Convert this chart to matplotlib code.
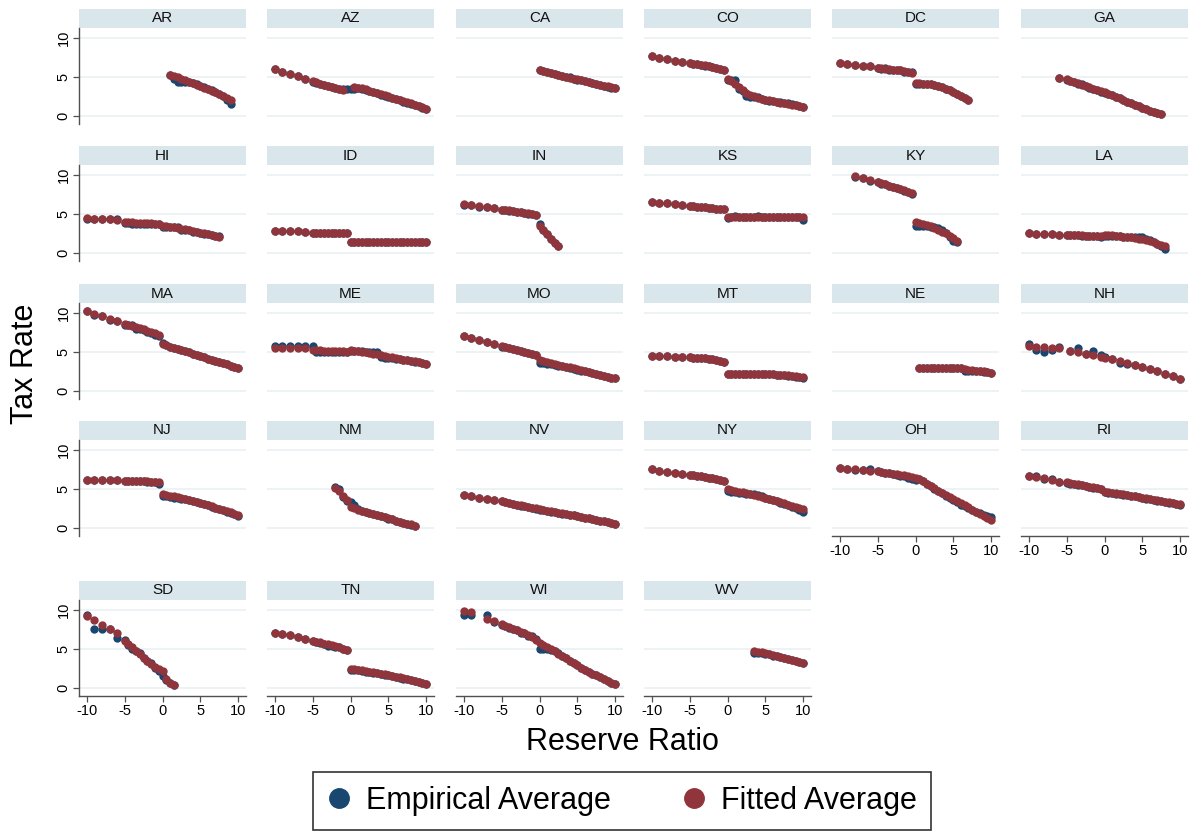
import matplotlib
matplotlib.use("Agg")
import matplotlib.pyplot as plt
from matplotlib.lines import Line2D
from matplotlib.patches import Rectangle
import numpy as np

plt.rcParams['font.family'] = ['Liberation Sans', 'DejaVu Sans']

n = None

# reserve ratio grid shared by every state
reserve_grid = [-10, -9, -8, -7, -6,
                -5, -4.5, -4, -3.5, -3, -2.5, -2, -1.5, -1, -0.5,
                0, 0.5, 1, 1.5, 2, 2.5, 3, 3.5, 4, 4.5, 5, 5.5, 6, 6.5, 7, 7.5, 8, 8.5, 9, 9.5, 10]

states = ["AR", "AZ", "CA", "CO", "DC", "GA",
          "HI", "ID", "IN", "KS", "KY", "LA",
          "MA", "ME", "MO", "MT", "NE", "NH",
          "NJ", "NM", "NV", "NY", "OH", "RI",
          "SD", "TN", "WI", "WV"]

# tax rates (empirical / fitted average)
emp_AR = [n]*5 + [n]*10 + [n, n, 5.2, 4.8, 4.4, 4.3, 4.3, 4.3, 4.2, 4.1, 3.9, 3.7, 3.5, 3.3, 3.1, 2.8, 2.5, 2.1, 1.5, n, n]
fit_AR = [n]*5 + [n]*10 + [n, n, 5.3, 5.15, 4.95, 4.75, 4.6, 4.4, 4.2, 4.0, 3.85, 3.65, 3.45, 3.25, 3.05, 2.85, 2.6, 2.35, 2.1, n, n]

emp_AZ = [6.0, 5.7, 5.4, 5.1, 4.8] + [4.4, 4.2, 4.05, 3.95, 3.8, 3.7, 3.6, 3.5, 3.45, 3.45] + [3.45, 3.5, 3.55, 3.5, 3.35, 3.2, 3.05, 2.9, 2.75, 2.6, 2.45, 2.3, 2.15, 2.0, 1.85, 1.7, 1.55, 1.4, 1.25, 1.05, 0.9]
fit_AZ = [6.0, 5.7, 5.4, 5.1, 4.8] + [4.45, 4.3, 4.15, 4.0, 3.9, 3.75, 3.6, 3.45, 3.35, n] + [n, 3.75, 3.65, 3.55, 3.4, 3.25, 3.1, 2.95, 2.8, 2.65, 2.5, 2.35, 2.2, 2.05, 1.9, 1.75, 1.6, 1.45, 1.3, 1.1, 0.95]

emp_CA = [n]*5 + [n]*10 + [5.95, 5.75, 5.6, 5.5, 5.4, 5.3, 5.15, 5.05, 4.95, 4.8, 4.65, 4.55, 4.45, 4.35, 4.2, 4.1, 4.0, 3.85, 3.75, 3.65, 3.55]
fit_CA = [n]*5 + [n]*10 + [5.85, 5.72, 5.6, 5.5, 5.38, 5.27, 5.15, 5.04, 4.92, 4.8, 4.7, 4.58, 4.47, 4.35, 4.24, 4.12, 4.0, 3.9, 3.78, 3.67, 3.55]

emp_CO = [7.7, 7.45, 7.3, 7.1, 6.9] + [6.75, 6.65, 6.7, 6.5, 6.4, 6.45, 6.3, 6.1, 6.05, 5.85] + [4.6, 4.6, 4.6, 3.5, 3.2, 2.6, 2.4, 2.4, 2.4, 2.15, 2.1, 1.9, 1.9, 1.8, 1.75, 1.6, 1.6, 1.5, 1.35, 1.3, 1.2]
fit_CO = [7.7, 7.45, 7.3, 7.1, 6.9] + [6.75, 6.7, 6.6, 6.55, 6.5, 6.4, 6.3, 6.2, 6.05, 5.9] + [4.7, 4.45, 4.1, 3.7, 3.35, 3.0, 2.7, 2.5, 2.35, 2.2, 2.1, 2.0, 1.9, 1.8, 1.7, 1.6, 1.5, 1.45, 1.35, 1.3, 1.2]

emp_DC = [6.75, 6.65, 6.55, 6.45, 6.35] + [6.1, 6.05, 6.1, 5.95, 5.9, 5.85, 5.9, 5.7, 5.7, 5.6] + [4.15, 4.15, 4.1, 4.1, 4.05, 3.95, 3.85, 3.7, 3.5, 3.3, 3.1, 2.85, 2.6, 2.35, 2.1, n, n, n, n, n, n]
fit_DC = [6.75, 6.65, 6.55, 6.45, 6.35] + [6.15, 6.1, 6.05, 6.0, 5.95, 5.9, 5.85, 5.75, 5.65, 5.45] + [4.2, 4.2, 4.15, 4.1, 4.05, 3.95, 3.85, 3.7, 3.5, 3.3, 3.1, 2.85, 2.6, 2.35, 2.1, n, n, n, n, n, n]

emp_GA = [n, n, n, n, 4.9] + [4.65, 4.5, 4.35, 4.15, 4.05, 3.8, 3.65, 3.5, 3.3, 3.05] + [3.0, 2.85, 2.65, 2.45, 2.25, 2.05, 1.85, 1.65, 1.45, 1.25, 1.05, 0.9, 0.7, 0.55, 0.4, 0.3, n, n, n, n, n]
fit_GA = [n, n, n, n, 4.9] + [4.7, 4.5, 4.35, 4.2, 4.0, 3.85, 3.7, 3.5, 3.35, 3.2] + [3.05, 2.85, 2.65, 2.45, 2.25, 2.05, 1.85, 1.65, 1.45, 1.25, 1.05, 0.9, 0.7, 0.55, 0.4, 0.3, n, n, n, n, n]

emp_HI = [4.4, 4.4, 4.3, 4.35, 4.4] + [3.8, 3.8, 3.75, 3.75, 3.75, 3.75, 3.75, 3.75, 3.7, 3.7] + [3.3, 3.3, 3.3, 3.3, 3.3, 3.0, 3.0, 3.0, 2.75, 2.7, 2.55, 2.45, 2.4, 2.3, 2.2, 2.2, n, n, n, n, n]
fit_HI = [4.45, 4.4, 4.35, 4.3, 4.2] + [4.0, 3.98, 3.95, 3.9, 3.88, 3.85, 3.82, 3.78, 3.72, 3.68] + [3.5, 3.45, 3.38, 3.3, 3.22, 3.12, 3.02, 2.9, 2.8, 2.7, 2.6, 2.5, 2.4, 2.3, 2.2, 2.1, n, n, n, n, n]

emp_ID = [2.85, 2.85, 2.8, 2.8, 2.65] + [2.6]*10 + [1.45, 1.45, 1.45, 1.45, 1.44, 1.44, 1.43, 1.43, 1.42, 1.42, 1.41, 1.41, 1.4, 1.4, 1.39, 1.39, 1.38, 1.38, 1.37, 1.36, 1.35]
fit_ID = [2.85, 2.82, 2.8, 2.78, 2.7] + [2.6]*10 + [1.45, 1.45, 1.45, 1.45, 1.44, 1.44, 1.43, 1.43, 1.42, 1.42, 1.41, 1.41, 1.4, 1.4, 1.39, 1.39, 1.38, 1.38, 1.37, 1.36, 1.35]

emp_IN = [6.15, 6.15, 5.95, 5.9, 5.75] + [5.5, 5.45, 5.4, 5.35, 5.3, 5.2, 5.15, 5.05, 4.95, 4.9] + [3.7, 2.95, 2.45, 1.85, 1.3, 0.9] + [n]*15
fit_IN = [6.3, 6.15, 6.0, 5.9, 5.75] + [5.55, 5.5, 5.45, 5.38, 5.3, 5.22, 5.15, 5.08, 5.0, 4.9] + [3.5, 2.95, 2.4, 1.85, 1.3, 0.9] + [n]*15

emp_KS = [6.5, 6.45, 6.35, 6.25, 6.15] + [6.05, 6.0, 5.95, 5.9, 5.85, 5.8, 5.75, 5.7, 5.65, 5.6] + [4.45, 4.55, 4.75, 4.6, 4.6, 4.6, 4.6, 4.55, 4.7, 4.6, 4.6, 4.6, 4.55, 4.55, 4.6, 4.55, 4.6, 4.6, 4.6, 4.55, 4.2]
fit_KS = [6.5, 6.45, 6.35, 6.25, 6.15] + [6.05, 6.0, 5.95, 5.9, 5.85, 5.8, 5.75, 5.7, 5.65, 5.6] + [4.6, 4.6, 4.6, 4.6, 4.6, 4.6, 4.6, 4.6, 4.6, 4.6, 4.6, 4.6, 4.6, 4.58, 4.58, 4.57, 4.57, 4.56, 4.56, 4.55, 4.55]

emp_KY = [n, n, 9.8, 9.55, 9.25] + [9.1, 8.9, 8.8, 8.65, 8.5, 8.35, 8.2, 8.0, 7.8, 7.5] + [3.5, 3.45, 3.45, 3.4, 3.35, 3.3, 3.2, 2.9, 2.5, 2.1, 1.5, 1.4] + [n]*9
fit_KY = [n, n, 9.9, 9.55, 9.3] + [9.1, 8.95, 8.8, 8.65, 8.5, 8.35, 8.2, 8.05, 7.85, 7.65] + [3.95, 3.85, 3.7, 3.55, 3.4, 3.2, 3.0, 2.75, 2.5, 2.2, 1.9, 1.55] + [n]*9

emp_LA = [2.5, 2.45, 2.42, 2.4, 2.35] + [2.3, 2.25, 2.25, 2.25, 2.2, 2.2, 2.2, 2.2, 2.15, 2.1] + [2.2, 2.2, 2.2, 2.15, 2.15, 2.1, 2.05, 2.05, 2.05, 2.0, 2.0, 1.8, 1.6, 1.4, 1.2, 0.9, 0.55, n, n, n, n]
fit_LA = [2.5, 2.45, 2.42, 2.4, 2.35] + [2.3, 2.28, 2.26, 2.25, 2.24, 2.22, 2.2, 2.2, 2.18, 2.15] + [2.35, 2.3, 2.25, 2.2, 2.15, 2.1, 2.05, 2.0, 1.95, 1.85, 1.75, 1.65, 1.5, 1.35, 1.2, 1.05, 0.95, n, n, n, n]

emp_MA = [10.3, 9.8, 9.65, 9.15, 8.95] + [8.5, 8.5, 8.5, 8.0, 7.9, 7.85, 7.6, 7.4, 7.2, 7.0] + [6.1, 5.85, 5.7, 5.55, 5.4, 5.25, 5.1, 4.95, 4.8, 4.6, 4.45, 4.3, 4.15, 4.0, 3.85, 3.7, 3.55, 3.4, 3.25, 3.1, 2.95]
fit_MA = [10.25, 9.85, 9.65, 9.2, 9.0] + [8.65, 8.5, 8.35, 8.2, 8.05, 7.9, 7.75, 7.55, 7.4, 7.2] + [6.0, 5.85, 5.7, 5.55, 5.4, 5.25, 5.1, 4.95, 4.8, 4.6, 4.45, 4.3, 4.15, 4.0, 3.85, 3.7, 3.55, 3.4, 3.25, 3.1, 2.95]

emp_ME = [5.75, 5.75, 5.75, 5.75, 5.75] + [5.75, 5.0, 5.0, 5.0, 5.0, 5.0, 5.0, 5.0, 5.0, 5.0] + [5.1, 5.1, 5.1, 5.1, 5.05, 5.05, 5.05, 5.0, 4.4, 4.2, 4.2, 4.2, 4.15, 4.1, 4.0, 3.95, 3.85, 3.75, 3.7, 3.6, 3.5]
fit_ME = [5.55, 5.55, 5.55, 5.5, 5.5] + [5.25, 5.2, 5.2, 5.15, 5.15, 5.12, 5.1, 5.1, 5.08, 5.05] + [5.2, 5.15, 5.1, 5.0, 4.95, 4.85, 4.8, 4.7, 4.6, 4.5, 4.4, 4.3, 4.2, 4.1, 4.0, 3.95, 3.85, 3.8, 3.7, 3.6, 3.5]

emp_MO = [7.05, 6.75, 6.5, 6.3, 6.05] + [5.7, 5.6, 5.5, 5.4, 5.25, 5.15, 5.0, 4.85, 4.75, 4.6] + [3.55, 3.55, 3.5, 3.45, 3.35, 3.25, 3.15, 3.05, 2.95, 2.85, 2.75, 2.62, 2.5, 2.4, 2.28, 2.16, 2.04, 1.92, 1.8, 1.7, 1.6]
fit_MO = [7.05, 6.75, 6.5, 6.3, 6.05] + [5.75, 5.65, 5.55, 5.42, 5.3, 5.18, 5.05, 4.9, 4.78, 4.65] + [3.95, 3.83, 3.72, 3.6, 3.48, 3.36, 3.25, 3.13, 3.01, 2.89, 2.78, 2.66, 2.54, 2.42, 2.31, 2.19, 2.07, 1.95, 1.83, 1.72, 1.6]

emp_MT = [4.5, 4.5, 4.45, 4.4, 4.35] + [4.3, 4.2, 4.2, 4.25, 4.2, 4.15, 4.05, 3.95, 3.85, 3.7] + [2.2, 2.2, 2.2, 2.2, 2.2, 2.2, 2.2, 2.2, 2.2, 2.2, 2.2, 2.2, 2.15, 2.0, 2.0, 2.0, 1.95, 1.9, 1.85, 1.8, 1.7]
fit_MT = [4.5, 4.5, 4.45, 4.4, 4.35] + [4.3, 4.28, 4.25, 4.22, 4.18, 4.12, 4.05, 3.95, 3.85, 3.7] + [2.2, 2.2, 2.2, 2.2, 2.2, 2.2, 2.2, 2.18, 2.18, 2.16, 2.15, 2.14, 2.12, 2.1, 2.08, 2.05, 2.0, 1.95, 1.9, 1.82, 1.75]

emp_NE = [n]*5 + [n]*10 + [n, 2.95, 2.95, 2.95, 2.95, 2.95, 2.95, 2.95, 2.95, 2.95, 2.95, 2.95, 2.95, 2.6, 2.55, 2.55, 2.5, 2.5, 2.45, 2.4, 2.3]
fit_NE = [n]*5 + [n]*10 + [n, 2.95, 2.95, 2.95, 2.95, 2.95, 2.95, 2.94, 2.93, 2.92, 2.91, 2.9, 2.9, 2.8, 2.7, 2.65, 2.6, 2.55, 2.5, 2.4, 2.3]

emp_NH = [6.0, 5.3, 5.0, 5.3, 5.6] + [n, 5.1, n, 5.5, n, 4.8, n, 5.1, n, 4.6] + [4.3, n, 4.1, n, 3.6, n, 3.4, n, 3.3, n, 3.1, n, 2.8, n, 2.5, n, 2.2, n, 1.9, n, 1.5]
fit_NH = [5.8, 5.7, 5.6, 5.5, 5.45] + [n, 5.1, n, 5.0, n, 4.8, n, 4.6, n, 4.4] + [4.2, n, 4.1, n, 3.8, n, 3.6, n, 3.3, n, 3.1, n, 2.8, n, 2.5, n, 2.2, n, 1.9, n, 1.5]

emp_NJ = [6.2, 6.2, 6.18, 6.15, 6.1] + [6.05, 6.05, 6.05, 6.0, 6.0, 6.0, 5.95, 5.9, 5.9, 5.7] + [4.15, 4.05, 3.95, 3.9, 3.85, 3.75, 3.7, 3.6, 3.5, 3.35, 3.2, 3.05, 2.9, 2.75, 2.55, 2.4, 2.25, 2.05, 1.9, 1.75, 1.5]
fit_NJ = [6.2, 6.2, 6.18, 6.15, 6.1] + [6.05, 6.05, 6.05, 6.02, 6.0, 6.0, 5.98, 5.95, 5.92, 5.85] + [4.35, 4.25, 4.15, 4.05, 3.95, 3.8, 3.7, 3.55, 3.45, 3.35, 3.2, 3.05, 2.9, 2.8, 2.6, 2.45, 2.3, 2.15, 2.0, 1.85, 1.65]

emp_NM = [n]*5 + [n, n, n, n, n, n, 5.2, 5.0, 4.0, 3.4] + [3.3, 3.0, 2.4, 2.2, 2.05, 1.9, 1.75, 1.6, 1.5, 1.35, 1.2, 1.1, 0.95, 0.8, 0.65, 0.55, 0.4, 0.3, n, n, n]
fit_NM = [n]*5 + [n, n, n, n, n, n, 5.15, 4.7, 4.1, 3.6] + [2.65, 2.5, 2.35, 2.2, 2.05, 1.9, 1.8, 1.65, 1.5, 1.35, 1.25, 1.1, 0.95, 0.8, 0.7, 0.55, 0.45, 0.3, n, n, n]

emp_NV = [4.2, 4.05, 3.9, 3.75, 3.6] + [3.4, 3.3, 3.15, 3.1, 2.95, 2.85, 2.8, 2.65, 2.55, 2.4] + [2.35, 2.3, 2.2, 2.1, 2.05, 1.95, 1.85, 1.75, 1.7, 1.6, 1.5, 1.4, 1.3, 1.25, 1.1, 1.0, 0.95, 0.85, 0.75, 0.6, 0.5]
fit_NV = [4.2, 4.05, 3.9, 3.75, 3.6] + [3.4, 3.3, 3.2, 3.1, 3.0, 2.9, 2.8, 2.7, 2.6, 2.5] + [2.4, 2.3, 2.2, 2.12, 2.05, 1.95, 1.87, 1.78, 1.7, 1.6, 1.5, 1.42, 1.33, 1.25, 1.15, 1.05, 0.95, 0.85, 0.75, 0.65, 0.55]

emp_NY = [7.5, 7.35, 7.2, 7.05, 6.95] + [6.85, 6.8, 6.7, 6.6, 6.55, 6.45, 6.4, 6.3, 6.2, 6.05] + [4.7, 4.65, 4.6, 4.5, 4.45, 4.4, 4.4, 4.35, 4.2, 4.05, 3.9, 3.75, 3.55, 3.4, 3.25, 3.05, 2.9, 2.75, 2.55, 2.35, 2.1]
fit_NY = [7.5, 7.35, 7.2, 7.05, 6.95] + [6.85, 6.75, 6.7, 6.6, 6.5, 6.45, 6.35, 6.3, 6.2, 6.05] + [4.95, 4.85, 4.75, 4.65, 4.55, 4.45, 4.35, 4.25, 4.15, 4.0, 3.9, 3.75, 3.6, 3.45, 3.3, 3.15, 3.0, 2.85, 2.7, 2.55, 2.4]

emp_OH = [7.7, 7.5, 7.45, 7.4, 7.5] + [7.3, 7.2, 7.1, 7.0, 6.9, 6.8, 6.7, 6.6, 6.4, 6.3] + [6.2, 6.25, 6.0, 5.65, 5.35, 5.05, 4.75, 4.45, 4.15, 3.9, 3.6, 3.3, 3.0, 2.8, 2.5, 2.3, 2.1, 1.9, 1.7, 1.55, 1.4]
fit_OH = [7.7, 7.55, 7.5, 7.4, 7.35] + [7.25, 7.2, 7.1, 7.05, 6.95, 6.9, 6.8, 6.75, 6.65, 6.55] + [6.45, 6.3, 6.0, 5.7, 5.4, 5.1, 4.8, 4.5, 4.25, 4.0, 3.75, 3.45, 3.2, 2.9, 2.65, 2.35, 2.1, 1.85, 1.55, 1.3, 1.0]

emp_RI = [6.6, 6.6, 6.3, 6.25, 5.9] + [5.8, 5.7, 5.6, 5.55, 5.45, 5.35, 5.3, 5.15, 5.1, 5.0] + [4.55, 4.5, 4.45, 4.4, 4.35, 4.25, 4.2, 4.1, 4.05, 3.95, 3.85, 3.75, 3.7, 3.6, 3.5, 3.45, 3.35, 3.25, 3.2, 3.1, 3.0]
fit_RI = [6.7, 6.55, 6.35, 6.2, 5.95] + [5.85, 5.75, 5.65, 5.6, 5.5, 5.4, 5.3, 5.2, 5.1, 5.0] + [4.6, 4.55, 4.5, 4.45, 4.35, 4.3, 4.2, 4.15, 4.05, 4.0, 3.9, 3.8, 3.7, 3.6, 3.55, 3.45, 3.35, 3.3, 3.2, 3.1, 3.05]

emp_SD = [9.3, 7.6, 7.5, 7.6, 6.4] + [6.2, 5.5, 5.0, 4.7, 4.5, 3.8, 3.5, 3.2, 2.5, 2.2] + [1.5, 1.0, 0.6, 0.4] + [n]*17
fit_SD = [9.2, 8.7, 8.1, 7.6, 7.0] + [6.0, 5.6, 5.2, 4.75, 4.35, 3.9, 3.5, 3.1, 2.7, 2.4] + [2.2, 1.2, 0.7, 0.4] + [n]*17

emp_TN = [7.1, 6.95, 6.75, 6.5, 6.3] + [6.0, 5.95, 5.8, 5.7, 5.4, 5.4, 5.3, 5.2, 5.0, 4.85] + [2.3, 2.35, 2.3, 2.2, 2.1, 2.0, 1.9, 1.9, 1.8, 1.7, 1.6, 1.5, 1.4, 1.3, 1.2, 1.1, 1.0, 0.85, 0.75, 0.6, 0.5]
fit_TN = [7.1, 6.95, 6.75, 6.5, 6.3] + [6.05, 5.95, 5.85, 5.7, 5.6, 5.45, 5.35, 5.2, 5.05, 4.9] + [2.45, 2.4, 2.35, 2.3, 2.2, 2.1, 2.0, 1.95, 1.85, 1.75, 1.65, 1.55, 1.45, 1.35, 1.25, 1.1, 1.0, 0.9, 0.75, 0.65, 0.5]

emp_WI = [9.4, 9.35, n, 9.3, 8.5] + [8.1, 8.0, 7.7, 7.5, 7.4, 7.1, 7.0, 6.7, 6.6, 6.3] + [5.0, 5.0, 5.0, 4.9, 4.8, 4.5, 4.1, 3.8, 3.5, 3.2, 2.9, 2.6, 2.35, 2.1, 1.85, 1.6, 1.35, 1.1, 0.9, 0.7, 0.55]
fit_WI = [9.9, 9.7, n, 8.85, 8.55] + [8.2, 8.0, 7.8, 7.6, 7.4, 7.2, 7.0, 6.75, 6.5, 6.2] + [5.8, 5.55, 5.3, 5.0, 4.7, 4.4, 4.1, 3.8, 3.5, 3.2, 2.9, 2.6, 2.35, 2.1, 1.85, 1.6, 1.35, 1.1, 0.9, 0.7, 0.55]

emp_WV = [n]*5 + [n]*10 + [n]*7 + [4.5, 4.5, 4.5, 4.3, 4.3, 4.15, 4.05, 3.95, 3.85, 3.7, 3.6, 3.45, 3.3, 3.15]
fit_WV = [n]*5 + [n]*10 + [n]*7 + [4.75, 4.65, 4.55, 4.45, 4.35, 4.2, 4.1, 4.0, 3.85, 3.75, 3.6, 3.5, 3.35, 3.2]

empirical = {s: globals()["emp_" + s] for s in states}
fitted = {s: globals()["fit_" + s] for s in states}

navy = '#1a476f'
maroon = '#90353b'
strip = '#d9e6eb'
gridc = '#eaf1f3'
axc = '#505050'

W, H = 1192, 833
fig = plt.figure(figsize=(W / 100, H / 100), dpi=100)

col_left = [79, 267, 456, 644, 832, 1021]
row_top = [28, 165, 303, 440, 600]
pw, ph = 167, 96

x = np.array(reserve_grid, dtype=float)

for i, s in enumerate(states):
    r, c = divmod(i, 6)
    ax = fig.add_axes([col_left[c] / W, 1 - (row_top[r] + ph) / H, pw / W, ph / H])
    ax.set_xlim(-11.05, 11.05)
    ax.set_ylim(-1.03, 11.28)

    for g in (0, 5, 10):
        ax.axhline(g, color=gridc, lw=1.2, zorder=0)

    e = np.array([np.nan if v is None else v for v in empirical[s]], dtype=float)
    f = np.array([np.nan if v is None else v for v in fitted[s]], dtype=float)
    ax.scatter(x, e, s=36, color=navy, linewidths=0, zorder=2)
    ax.scatter(x, f, s=36, color=maroon, linewidths=0, zorder=3)

    # header strip
    ax.add_patch(Rectangle((0, 1), 1, 19 / ph, transform=ax.transAxes,
                           facecolor=strip, edgecolor='none', clip_on=False))
    ax.text(0.5, 1 + 9.5 / ph, s, transform=ax.transAxes, ha='center', va='center',
            fontsize=11, color='#111111')

    for sp in ax.spines.values():
        sp.set_visible(False)

    show_y = c == 0
    show_x = i + 6 >= len(states)

    if show_y:
        ax.spines['left'].set_visible(True)
        ax.spines['left'].set_color(axc)
        ax.spines['left'].set_linewidth(1.0)
        ax.set_yticks([0, 5, 10])
        ax.set_yticklabels(['0', '5', '10'], rotation=90, va='center')
        ax.tick_params(axis='y', length=4, width=0.9, color=axc, labelsize=10.5, pad=2)
    else:
        ax.set_yticks([])

    if show_x:
        ax.spines['bottom'].set_visible(True)
        ax.spines['bottom'].set_color(axc)
        ax.spines['bottom'].set_linewidth(1.0)
        ax.set_xticks([-10, -5, 0, 5, 10])
        ax.set_xticklabels(['-10', '-5', '0', '5', '10'])
        ax.tick_params(axis='x', length=4, width=0.9, color=axc, labelsize=10.5, pad=2)
    else:
        ax.set_xticks([])

fig.text(25 / W, 1 - 364 / H, 'Tax Rate', rotation=90, fontsize=22, ha='center', va='center')
fig.text(622 / W, 1 - 742 / H, 'Reserve Ratio', fontsize=22, ha='center', va='center')

handles = [Line2D([], [], ls='none', marker='o', ms=14, color=navy),
           Line2D([], [], ls='none', marker='o', ms=14, color=maroon)]
leg = fig.legend(handles, ['Empirical Average', 'Fitted Average'], loc='center',
                 bbox_to_anchor=(622 / W, 1 - 801 / H), ncol=2, fontsize=22,
                 frameon=True, fancybox=False, edgecolor='black',
                 handlelength=0.8, handletextpad=0.5, columnspacing=2.3, borderpad=0.45)
leg.get_frame().set_linewidth(1.2)

fig.savefig('out.png', dpi=100)
